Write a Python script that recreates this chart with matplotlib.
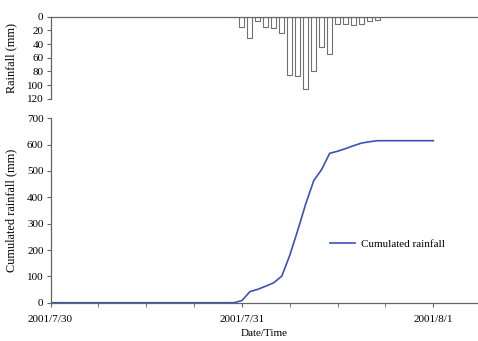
import matplotlib.pyplot as plt
import numpy as np

plt.rcParams["font.family"] = ["Liberation Serif", "DejaVu Serif"]
plt.rcParams["font.size"] = 8

# hourly rainfall (mm), hours counted from 2001/7/30 00:00
rain_hours = np.arange(23, 42)
rainfall = [1, 14.5, 31.5, 7, 14.5, 16, 24.5, 86, 87, 106, 80, 45, 55, 11, 10.5, 12, 10, 6, 5]

# cumulated rainfall (mm)
cum_hours = [0, 23, 24, 25, 26, 27, 28, 29, 30, 31, 32, 33, 34, 35, 36, 37, 38, 39, 40, 41, 48]
cumulated = [0, 0, 8, 42, 51, 63, 76, 101, 180, 275, 375, 463, 506, 567, 575, 585, 596, 606, 611, 615, 615]

date_ticks = [0, 24, 48]
date_labels = ["2001/7/30", "2001/7/31", "2001/8/1"]
xmax = 53.6

axis_col = "#666666"
fig = plt.figure(figsize=(4.78, 3.41), dpi=100)

# rainfall bars hanging from the top
ax1 = fig.add_axes([0.1057, 0.7106, 0.8943, 0.2405])
ax1.bar(rain_hours, rainfall, width=0.62, color="white", edgecolor="#707070", linewidth=0.8)
ax1.set_xlim(0, xmax)
ax1.set_ylim(120, 0)
ax1.set_yticks(np.arange(0, 121, 20))
ax1.set_xticks([])
for s in ["right", "bottom"]:
    ax1.spines[s].set_visible(False)
for s in ["left", "top"]:
    ax1.spines[s].set_color(axis_col)
    ax1.spines[s].set_linewidth(0.9)
ax1.tick_params(axis="y", direction="out", length=3, color=axis_col, pad=2)
ax1.set_ylabel("Rainfall (mm)", fontsize=8.8)
ax1.yaxis.set_label_coords(-0.078, 0.5)

# cumulated rainfall curve
ax2 = fig.add_axes([0.1057, 0.1123, 0.8943, 0.5408])
ax2.plot(cum_hours, cumulated, color="#3a52b8", linewidth=1.2, label="Cumulated rainfall")
ax2.set_xlim(0, xmax)
ax2.set_ylim(0, 700)
ax2.set_yticks(np.arange(0, 701, 100))
ax2.set_xticks(date_ticks)
ax2.set_xticklabels(date_labels)
ax2.set_xticks(np.arange(6, 49, 6), minor=True)
for s in ["right", "top"]:
    ax2.spines[s].set_visible(False)
for s in ["left", "bottom"]:
    ax2.spines[s].set_color(axis_col)
    ax2.spines[s].set_linewidth(0.9)
ax2.tick_params(axis="both", which="both", direction="out", length=3, color=axis_col, pad=2)
ax2.tick_params(axis="x", pad=6)
ax2.set_ylabel("Cumulated rainfall (mm)", fontsize=8.8)
ax2.yaxis.set_label_coords(-0.078, 0.5)
ax2.set_xlabel("Date/Time", labelpad=3.5)
ax2.legend(loc="center left", bbox_to_anchor=(0.654, 0.318), frameon=False,
           borderpad=0, borderaxespad=0, handlelength=2.25, handletextpad=0.5,
           fontsize=8)

fig.savefig("out.png", dpi=100)
